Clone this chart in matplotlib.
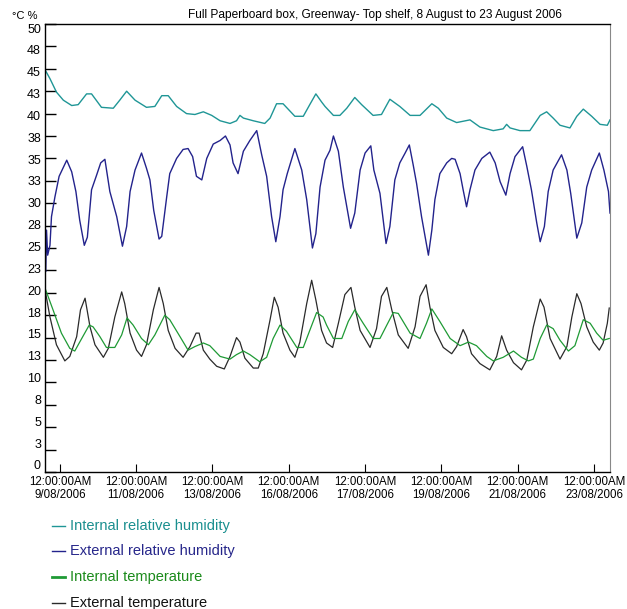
import matplotlib.pyplot as plt
from matplotlib.lines import Line2D
from matplotlib.transforms import blended_transform_factory

plt.rcParams['font.family'] = ['Liberation Sans', 'DejaVu Sans']

# time in days from 12:00:00AM 9/08/2006
int_rh_day = [-0.39, -0.26, -0.09, 0.09, 0.31, 0.48, 0.70, 0.83, 1.09, 1.40, 1.57, 1.75, 1.97,
              2.27, 2.49, 2.67, 2.84, 3.06, 3.32, 3.54, 3.76, 3.98, 4.20, 4.46, 4.63, 4.72,
              4.81, 5.07, 5.37, 5.51, 5.68, 5.85, 6.16, 6.38, 6.55, 6.71, 6.86, 6.95, 7.17,
              7.34, 7.52, 7.73, 7.91, 8.21, 8.43, 8.65, 8.91, 9.18, 9.44, 9.75, 9.92, 10.14,
              10.40, 10.75, 11.01, 11.36, 11.62, 11.71, 11.80, 12.06, 12.32, 12.59, 12.76,
              12.93, 13.11, 13.37, 13.55, 13.72, 13.94, 14.16, 14.35, 14.42]
int_rh = [44.9, 43.9, 42.4, 41.5, 40.9, 41.0, 42.2, 42.2, 40.7, 40.6, 41.5, 42.5, 41.5,
          40.7, 40.8, 42.0, 42.0, 40.8, 40.0, 39.9, 40.2, 39.8, 39.2, 38.9, 39.2, 39.8,
          39.5, 39.2, 38.9, 39.5, 41.1, 41.1, 39.7, 39.7, 41.0, 42.2, 41.3, 40.8, 39.8,
          39.8, 40.6, 41.8, 41.0, 39.8, 39.9, 41.6, 40.8, 39.8, 39.8, 41.1, 40.6, 39.5,
          39.0, 39.3, 38.5, 38.1, 38.3, 38.8, 38.4, 38.1, 38.1, 39.8, 40.2,
          39.5, 38.7, 38.4, 39.7, 40.5, 39.7, 38.8, 38.7, 39.3]

ext_rh_day = [-0.37, -0.35, -0.32, -0.26, -0.22, -0.13, -0.02, 0.18, 0.31, 0.42, 0.52, 0.64,
              0.72, 0.83, 0.96, 1.07, 1.18, 1.31, 1.49, 1.64, 1.75, 1.84, 1.97, 2.14, 2.27,
              2.36, 2.46, 2.60, 2.67, 2.80, 2.88, 3.06, 3.23, 3.36, 3.48, 3.58, 3.72, 3.85,
              4.02, 4.20, 4.34, 4.46, 4.54, 4.67, 4.81, 4.98, 5.16, 5.29, 5.42, 5.55, 5.66,
              5.77, 5.85, 5.96, 6.16, 6.34, 6.47, 6.62, 6.71, 6.82, 6.95, 7.08, 7.17, 7.30,
              7.43, 7.62, 7.73, 7.87, 8.00, 8.15, 8.23, 8.39, 8.55, 8.65, 8.78, 8.91, 9.05,
              9.16, 9.26, 9.35, 9.48, 9.66, 9.75, 9.83, 9.96, 10.14, 10.27, 10.36, 10.49,
              10.57, 10.66, 10.75, 10.88, 11.06, 11.27, 11.41, 11.54, 11.69, 11.80, 11.93,
              12.13, 12.24, 12.36, 12.50, 12.59, 12.70, 12.80, 12.93, 13.15, 13.29, 13.39,
              13.55, 13.68, 13.81, 13.94, 14.14, 14.26, 14.38, 14.42]
ext_rh = [22.4, 27.0, 24.2, 25.3, 28.5, 30.7, 33.0, 34.8, 33.5, 31.3, 28.1, 25.3,
          26.2, 31.5, 33.1, 34.5, 34.9, 31.3, 28.5, 25.2, 27.4, 31.3, 33.7, 35.6, 33.9,
          32.6, 29.2, 26.0, 26.3, 30.7, 33.3, 35.0, 36.0, 36.1, 35.2, 33.0, 32.6, 35.0,
          36.6, 37.0, 37.5, 36.5, 34.5, 33.3, 35.8, 37.0, 38.1, 35.4, 33.0, 28.5, 25.7,
          28.5, 31.5, 33.3, 36.1, 33.7, 30.4, 25.0, 26.6, 31.8, 34.8, 35.9, 37.5, 35.8,
          31.8, 27.2, 28.9, 33.7, 35.6, 36.4, 33.7, 31.1, 25.5, 27.4, 32.6, 34.5, 35.6,
          36.5, 34.3, 32.2, 28.5, 24.2, 27.0, 30.4, 33.3, 34.5, 35.0, 34.9, 33.3,
          31.5, 29.6, 31.5, 33.7, 35.0, 35.7, 34.5, 32.4, 30.9, 33.3, 35.2,
          36.3, 34.1, 31.5, 27.8, 25.7, 27.4, 31.3, 33.7, 35.4, 33.7, 31.1,
          26.1, 27.8, 31.8, 33.7, 35.6, 33.7, 31.3, 28.9]

int_t_day = [-0.37, -0.18, 0.04, 0.26, 0.39, 0.52, 0.77, 0.87, 1.05, 1.22, 1.44, 1.62, 1.76,
             1.92, 2.14, 2.32, 2.49, 2.75, 2.88, 3.15, 3.36, 3.54, 3.76, 3.93, 4.20, 4.46,
             4.63, 4.81, 4.98, 5.24, 5.42, 5.59, 5.77, 5.94, 6.21, 6.38, 6.55, 6.73, 6.90,
             6.99, 7.17, 7.39, 7.56, 7.73, 7.95, 8.21, 8.39, 8.57, 8.74, 8.87, 9.18, 9.44,
             9.61, 9.75, 9.96, 10.23, 10.49, 10.71, 10.92, 11.19, 11.36, 11.62, 11.89, 12.10,
             12.28, 12.41, 12.59, 12.76, 12.93, 13.11, 13.33, 13.50, 13.72, 13.90, 14.07,
             14.24, 14.40]
int_t = [20.3, 18.1, 15.5, 13.8, 13.5, 14.5, 16.4, 16.2, 15.1, 13.9, 13.9, 15.3, 17.2,
         16.4, 14.9, 14.2, 15.3, 17.5, 17.0, 15.1, 13.6, 14.0, 14.4, 14.1, 12.9, 12.6,
         13.1, 13.5, 13.1, 12.3, 12.8, 14.9, 16.4, 15.7, 13.9, 13.9, 15.8, 17.8, 17.3,
         16.4, 14.9, 14.9, 16.8, 18.1, 16.6, 14.9, 14.9, 16.4, 17.8, 17.7, 15.5, 14.9,
         16.6, 18.2, 16.8, 14.9, 14.1, 14.5, 14.1, 12.9, 12.4, 12.8, 13.5, 12.8,
         12.4, 12.6, 14.9, 16.4, 16.0, 14.7, 13.5, 14.1, 17.0, 16.6, 15.5,
         14.7, 14.9]

ext_t_day = [-0.37, -0.26, -0.09, 0.13, 0.26, 0.44, 0.54, 0.66, 0.79, 0.92, 1.14, 1.27, 1.44,
             1.62, 1.70, 1.84, 2.01, 2.14, 2.27, 2.45, 2.60, 2.71, 2.84, 3.02, 3.23, 3.41,
             3.57, 3.65, 3.76, 3.93, 4.11, 4.31, 4.46, 4.63, 4.72, 4.85, 5.07, 5.20, 5.33,
             5.51, 5.62, 5.72, 5.85, 6.03, 6.16, 6.29, 6.47, 6.60, 6.71, 6.86, 6.99, 7.15,
             7.30, 7.47, 7.63, 7.73, 7.87, 8.13, 8.30, 8.43, 8.57, 8.70, 8.87, 9.13, 9.31,
             9.44, 9.60, 9.70, 9.83, 10.05, 10.27, 10.40, 10.57, 10.66, 10.79, 11.01, 11.27,
             11.45, 11.58, 11.71, 11.89, 12.10, 12.24, 12.41, 12.59, 12.69, 12.85, 13.11,
             13.29, 13.42, 13.55, 13.66, 13.81, 13.98, 14.14, 14.24, 14.35, 14.40]
ext_t = [19.9, 17.3, 14.2, 12.4, 12.9, 15.1, 18.1, 19.4, 16.2, 14.2, 12.8, 13.8, 17.3,
         20.1, 18.8, 15.5, 13.6, 12.9, 14.2, 18.1, 20.6, 18.8, 15.8, 13.8, 12.8, 14.0,
         15.5, 15.5, 13.6, 12.6, 11.8, 11.5, 12.9, 15.0, 14.5, 12.7, 11.6, 11.6, 13.2,
         17.0, 19.5, 18.4, 15.5, 13.6, 12.8, 14.5, 18.8, 21.4, 19.2, 15.8, 14.4, 13.9,
         16.6, 19.8, 20.6, 18.4, 15.8, 13.9, 16.0, 19.6, 20.6, 18.1, 15.3, 13.8, 16.2,
         19.6, 20.9, 18.4, 15.8, 13.9, 13.2, 14.0, 15.9, 15.1, 13.2, 12.1, 11.4,
         12.9, 15.2, 13.6, 12.2, 11.4, 12.5, 16.2, 19.3, 18.4, 14.9, 12.6,
         14.0, 17.3, 19.9, 18.8, 16.2, 14.5, 13.6, 14.4, 16.6, 18.3]

yticks = [0, 2.5, 5, 7.5, 10, 12.5, 15, 17.5, 20, 22.5, 25, 27.5, 30, 32.5, 35, 37.5,
          40, 42.5, 45, 47.5, 50]
ytick_labels = ['0', '3', '5', '8', '10', '13', '15', '18', '20', '23', '25', '28', '30',
                '33', '35', '38', '40', '43', '45', '48', '50']
xticks = [0, 2, 4, 6, 8, 10, 12, 14]
xtick_dates = ['9/08/2006', '11/08/2006', '13/08/2006', '16/08/2006', '17/08/2006',
               '19/08/2006', '21/08/2006', '23/08/2006']

series_names = ['Internal relative humidity', 'External relative humidity',
                'Internal temperature', 'External temperature']
line_colors = ['#1f9696', '#23238c', '#1f9a35', '#2a2a2a']
text_colors = ['#1a8f8f', '#26268a', '#1a8a1a', '#111111']

fig = plt.figure(figsize=(6.27, 6.09), dpi=100)
ax = fig.add_axes([45 / 627, 1 - 472 / 609, 565 / 627, 448 / 609])

ax.plot(int_rh_day, int_rh, color=line_colors[0], lw=1.0)
ax.plot(ext_rh_day, ext_rh, color=line_colors[1], lw=1.0)
ax.plot(ext_t_day, ext_t, color=line_colors[3], lw=0.9)
ax.plot(int_t_day, int_t, color=line_colors[2], lw=0.9)

ax.set_xlim(-0.39, 14.42)
ax.set_ylim(0, 50)
ax.set_yticks(yticks)
ax.set_yticklabels([])
# the value labels sit a little closer together than the ticks in the original
ylab_tr = blended_transform_factory(fig.transFigure, ax.transData)
for v, lab in zip(yticks, ytick_labels):
    ax.text(41 / 627, 25 + (v - 25) * 0.975, lab, transform=ylab_tr,
            ha='right', va='center', fontsize=9)
ax.set_xticks(xticks)
ax.set_xticklabels(['12:00:00AM\n' + d for d in xtick_dates], fontsize=8.3, linespacing=1.05)
ax.tick_params(axis='y', direction='in', length=8, width=1, colors='black')
ax.tick_params(axis='x', direction='in', length=6, width=0.8, pad=3)
for s in ['left', 'bottom', 'top']:
    ax.spines[s].set_linewidth(1.0)
ax.spines['right'].set_color('#888888')

fig.text(375 / 627, 1 - 15 / 609, 'Full Paperboard box, Greenway- Top shelf, 8 August to 23 August 2006',
         ha='center', va='center', fontsize=8.6)
fig.text(12 / 627, 1 - 16 / 609, '°C %', ha='left', va='center', fontsize=8)

# legend below the plot
leg_y = [526, 551, 577, 603]
for name, lc, tc, y in zip(series_names, line_colors, text_colors, leg_y):
    lw = 2 if name == 'Internal temperature' else 1
    fig.add_artist(Line2D([52 / 627, 65 / 627], [1 - y / 609, 1 - y / 609], color=lc, lw=lw))
    fig.text(70 / 627, 1 - y / 609, name, color=tc, fontsize=10.5, ha='left', va='center')

fig.savefig('out.png', dpi=100)
